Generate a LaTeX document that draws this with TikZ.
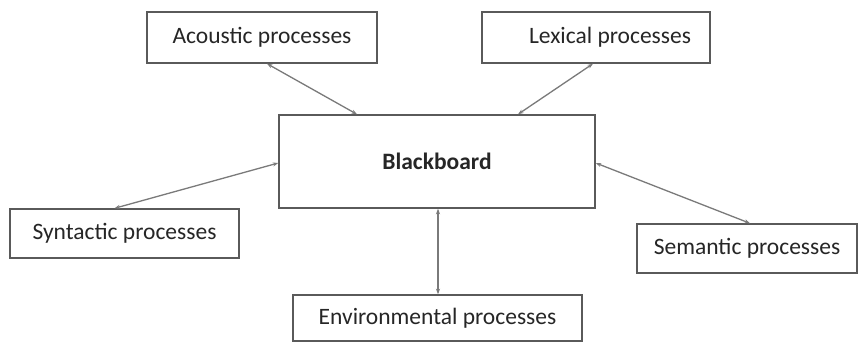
\documentclass[tikz,border=0pt]{standalone}
\usepackage{fontspec}
\setmainfont{Carlito}
\usetikzlibrary{arrows.meta}
\definecolor{boxline}{HTML}{5A5A5A}
\definecolor{arrline}{HTML}{7A7A7A}
\tikzset{
  procbox/.style={draw=boxline, line width=1.4pt, fill=white, inner sep=0pt, font=\fontsize{23.5}{28}\selectfont, text=black!85},
  link/.style={draw=arrline, line width=1.3pt, {Stealth[length=5.5pt,width=4pt]}-{Stealth[length=5.5pt,width=4pt]}}
}
\begin{document}
\begin{tikzpicture}[x=1pt,y=-1pt]
\useasboundingbox[fill=white] (0,0) rectangle (858,344);
\node[procbox, minimum width=230pt, minimum height=51pt] (ac) at (262,37.5) {Acoustic processes};
\node[procbox, minimum width=228pt, minimum height=51pt, text width=190pt, align=flush right] (lx) at (596,37.5) {Lexical processes};
\node[procbox, minimum width=316pt, minimum height=93pt] (bb) at (437,161.5) {\textbf{Blackboard}};
\node[procbox, minimum width=229pt, minimum height=49pt] (sy) at (124.5,233.5) {Syntactic processes};
\node[procbox, minimum width=220pt, minimum height=49pt] (se) at (747,248.5) {Semantic processes};
\node[procbox, minimum width=289pt, minimum height=46pt] (en) at (437.5,318) {Environmental processes};
\draw[link] ([xshift=5pt]ac.south) -- ([xshift=-80pt]bb.north);
\draw[link] ([xshift=-3pt]lx.south) -- ([xshift=81pt]bb.north);
\draw[link] ([xshift=-10pt]sy.north) -- ([yshift=-1.5pt]bb.west);
\draw[link] ([yshift=-1.5pt]bb.east) -- ([xshift=3pt]se.north);
\draw[link] ([xshift=1pt]bb.south) -- ([xshift=0.5pt]en.north);
\end{tikzpicture}
\end{document}
